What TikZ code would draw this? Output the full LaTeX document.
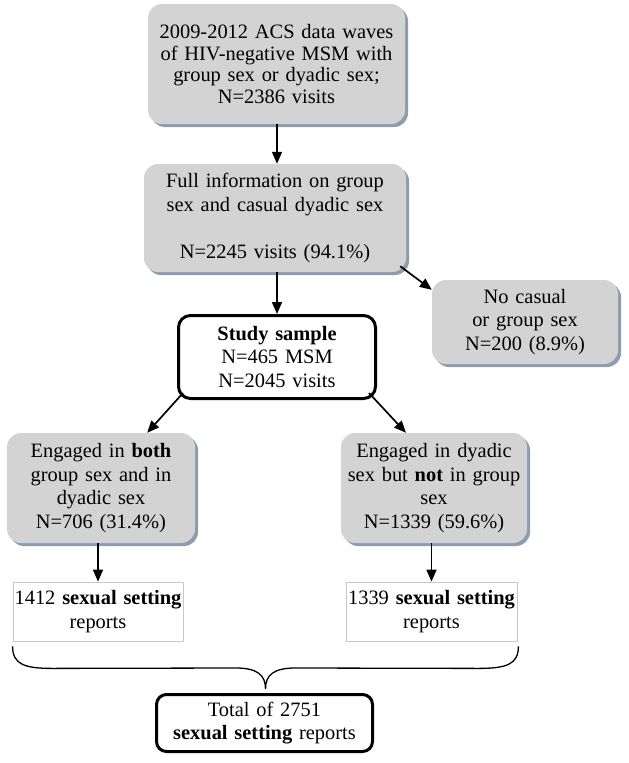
\documentclass[tikz,border=0pt]{standalone}
\usepackage{fontspec}
\setmainfont{Liberation Serif}
\usetikzlibrary{shadows,calc,arrows.meta}
\definecolor{boxgray}{HTML}{D3D3D3}
\definecolor{shadowcol}{HTML}{8E9CAF}
\definecolor{thinborder}{HTML}{C8C8C8}
\tikzset{
  txt/.style={font=\fontsize{20.5}{23.5}\selectfont, align=center, inner sep=0pt},
  graybox/.style={txt, fill=boxgray, rounded corners=14bp,
     drop shadow={shadow xshift=3bp, shadow yshift=-3bp, fill=shadowcol, opacity=1}},
  boldbox/.style={txt, draw=black, line width=3bp, fill=white, rounded corners=12bp},
  thinbox/.style={txt, draw=thinborder, line width=0.8bp, fill=white},
  arr/.style={line width=1.7bp, -{Triangle[length=12bp,width=10bp]}},
}
\begin{document}
\begin{tikzpicture}[x=1bp,y=-1bp]
\useasboundingbox (0,0) rectangle (629,763);
\node[graybox, text width=257bp, minimum height=120bp,
      font=\fontsize{20.5}{22}\selectfont] (top) at (276.5,64)
  {2009-2012 ACS data waves\\of HIV-negative MSM with\\group sex or dyadic sex;\\N=2386 visits};
\node[graybox, text width=262bp, minimum height=108bp] (full) at (275,218)
  {Full information on group\\sex and casual dyadic sex\\[23.5bp]N=2245 visits (94.1\%)};
\node[graybox, text width=186bp, minimum height=84bp] (nocas) at (525,322)
  {No casual\\or group sex\\N=200 (8.9\%)};
\node[boldbox, text width=197bp, minimum height=83bp] (study) at (277,357)
  {\textbf{Study sample}\\N=465 MSM\\N=2045 visits};
\node[graybox, text width=188bp, minimum height=110bp] (both) at (101,488)
  {Engaged in \textbf{both}\\group sex and in\\dyadic sex\\N=706 (31.4\%)};
\node[graybox, text width=186bp, minimum height=110bp] (dyad) at (434,488)
  {Engaged in dyadic\\sex but \textbf{not} in group\\sex\\N=1339 (59.6\%)};
\node[thinbox, text width=170bp, minimum height=59bp] (sl) at (98,611.5)
  {1412 \textbf{sexual setting}\\reports};
\node[thinbox, text width=171bp, minimum height=59bp] (sr) at (431.5,611.5)
  {1339 \textbf{sexual setting}\\reports};
\node[boldbox, text width=216bp, minimum height=57bp, rounded corners=10bp] (total) at (264.5,723)
  {Total of 2751\\\textbf{sexual setting} reports};

\draw[arr] (top.south -| 277,0) -- (full.north -| 277,0);
\draw[arr] (full.south -| 277,0) -- (study.north -| 277,0);
\coordinate (d1) at ($(full.south east)+(-6,-6)$);
\coordinate (d2) at ($(nocas.north west)+(0,10)$);
\draw[arr] (d1) -- (d2);
\coordinate (s1) at ($(study.south west)+(6,-7)$);
\coordinate (s2) at ($(both.north east)+(-48,0)$);
\draw[arr] (s1) -- (s2);
\coordinate (s3) at ($(study.south east)+(-8,-7)$);
\coordinate (s4) at ($(dyad.north)+(-28,0)$);
\draw[arr] (s3) -- (s4);
\draw[arr] (sl.north |- both.south) -- (sl.north);
\draw[arr] (sr.north |- dyad.south) -- (sr.north);

\coordinate (bl) at ($(sl.south west)+(0,5)$);
\coordinate (br) at ($(sr.south east)+(1,5)$);
\coordinate (tip) at ($(total.north)+(1,-4)$);
\draw[line width=1.3bp]
  (bl) .. controls ($(bl)+(0,18)$) and ($(bl)+(12,22)$) .. ($(bl)+(40,22)$)
  -- ($(tip)+(-30,-21)$) .. controls ($(tip)+(-8,-21)$) and ($(tip)+(0,-14)$) .. (tip)
  .. controls ($(tip)+(0,-14)$) and ($(tip)+(8,-21)$) .. ($(tip)+(30,-21)$)
  -- ($(br)+(-40,22)$) .. controls ($(br)+(-12,22)$) and ($(br)+(0,18)$) .. (br);
\end{tikzpicture}
\end{document}
